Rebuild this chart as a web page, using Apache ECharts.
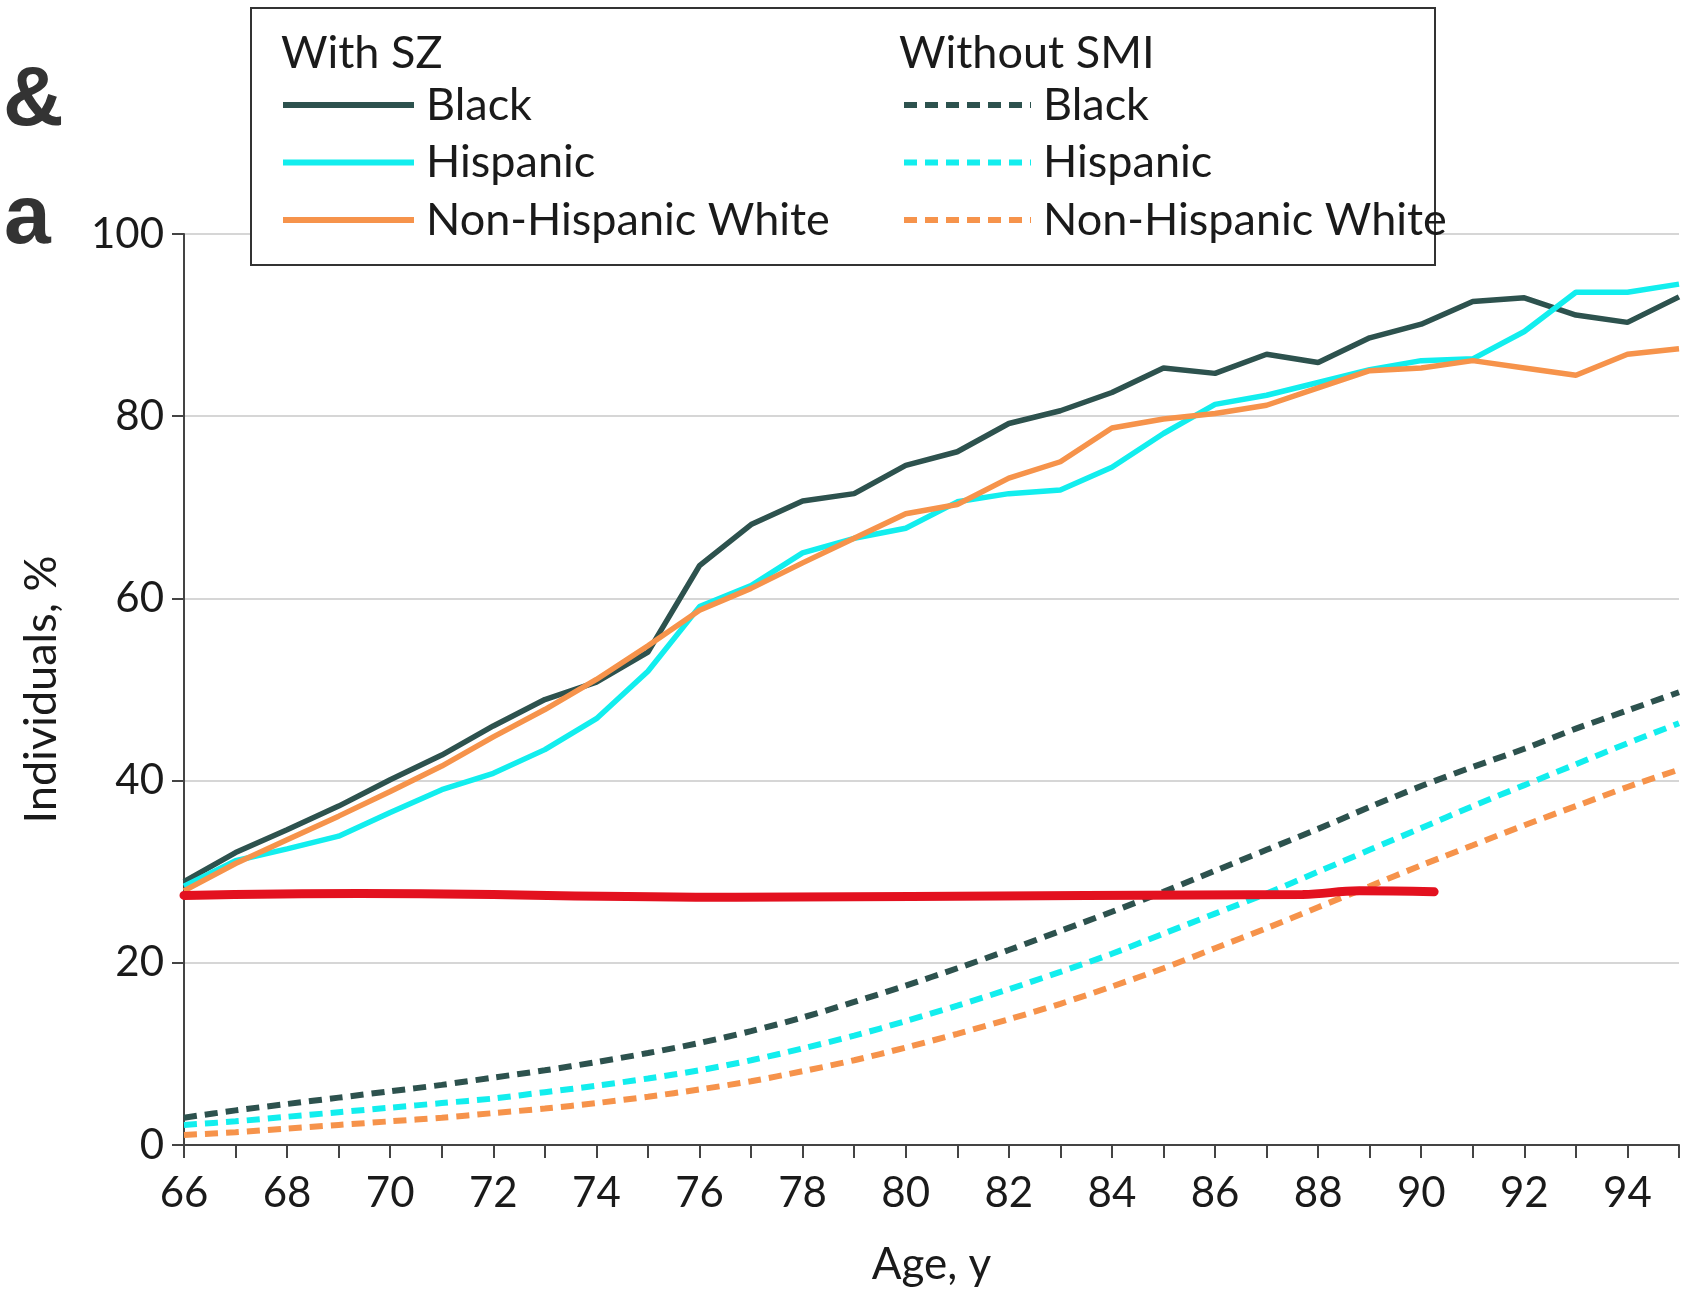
<!DOCTYPE html>
<html>
<head>
<meta charset="utf-8">
<title>Individuals by age</title>
<script src="https://cdn.jsdelivr.net/npm/echarts@6/dist/echarts.min.js"></script>
<style>
html, body { margin: 0; padding: 0; background: #fff; }
#chart { width: 1701px; height: 1292px; }
</style>
</head>
<body>
<div id="chart"></div>
<script>
// ages 66..95
const ages = [66, 67, 68, 69, 70, 71, 72, 73, 74, 75, 76, 77, 78, 79, 80,
  81, 82, 83, 84, 85, 86, 87, 88, 89, 90, 91, 92, 93, 94, 95]

// with SZ (solid)
const szBlack = [28.9, 32.1, 34.6, 37.2, 40.1, 42.8, 46.0, 48.9, 50.8, 54.1, 63.6, 68.1, 70.7, 71.5, 74.6,
  76.1, 79.2, 80.6, 82.6, 85.3, 84.7, 86.8, 85.9, 88.6, 90.1, 92.6, 93.0, 91.1, 90.3, 93.1]
const szHispanic = [28.4, 31.2, 32.5, 33.9, 36.5, 39.0, 40.8, 43.4, 46.8, 52.0, 59.1, 61.4, 65.0, 66.6, 67.7,
  70.6, 71.5, 71.9, 74.4, 78.1, 81.3, 82.3, 83.7, 85.1, 86.1, 86.3, 89.3, 93.6, 93.6, 94.5]
const szWhite = [27.9, 30.9, 33.5, 36.1, 38.8, 41.6, 44.8, 47.8, 51.1, 54.8, 58.7, 61.1, 63.9, 66.6, 69.3,
  70.3, 73.2, 75.0, 78.7, 79.7, 80.3, 81.2, 83.1, 85.0, 85.3, 86.1, 85.3, 84.5, 86.8, 87.4]

// without SMI (dashed)
const noBlack = [3.0, 3.8, 4.5, 5.2, 5.9, 6.6, 7.4, 8.2, 9.1, 10.1, 11.2, 12.5, 14.0, 15.7, 17.5,
  19.4, 21.4, 23.5, 25.6, 27.8, 30.1, 32.4, 34.7, 37.1, 39.4, 41.5, 43.5, 45.7, 47.7, 49.7]
const noHispanic = [2.2, 2.6, 3.1, 3.6, 4.1, 4.6, 5.1, 5.8, 6.5, 7.3, 8.2, 9.3, 10.6, 12.0, 13.6,
  15.3, 17.1, 19.0, 21.0, 23.2, 25.4, 27.6, 30.0, 32.4, 34.8, 37.2, 39.5, 41.8, 44.1, 46.3]
const noWhite = [1.1, 1.4, 1.8, 2.2, 2.6, 3.0, 3.5, 4.0, 4.6, 5.3, 6.1, 7.0, 8.1, 9.3, 10.7,
  12.2, 13.8, 15.5, 17.4, 19.4, 21.6, 23.8, 26.1, 28.4, 30.7, 32.9, 35.1, 37.2, 39.3, 41.2]

// hand drawn red mark
const redX = [66, 69.4, 76.7, 83.5, 87.7, 88.8, 90.25]
const redY = [27.4, 27.6, 27.2, 27.4, 27.5, 27.9, 27.8]

const groups = ['Black', 'Hispanic', 'Non-Hispanic White']
const yTicks = [0, 20, 40, 60, 80, 100]

const FONT = 'Lato'
const colors = ['#2d524e', '#12eeee', '#f6934b']

const pairs = (xs, ys) => xs.map((x, i) => [x, ys[i]])

const chart = echarts.init(document.getElementById('chart'))

const solid = [szBlack, szHispanic, szWhite].map((vals, i) => ({
  name: 'With SZ ' + groups[i],
  type: 'line',
  data: pairs(ages, vals),
  symbol: 'none',
  color: colors[i],
  z: 3 + i,
  lineStyle: {color: colors[i], width: 5.5}
}))

const dashed = [noBlack, noHispanic, noWhite].map((vals, i) => ({
  name: 'Without SMI ' + groups[i],
  type: 'line',
  data: pairs(ages, vals),
  symbol: 'none',
  color: colors[i],
  smooth: 0.3,
  lineStyle: {color: colors[i], width: 6, type: [13, 8]}
}))

const legendBase = {
  orient: 'vertical',
  top: 80,
  padding: 0,
  itemHeight: 14,
  itemGap: 7.5,
  selectedMode: false,
  itemStyle: {opacity: 0},
  lineStyle: {width: 6},
  textStyle: {fontFamily: FONT, fontSize: 45, lineHeight: 50, color: '#1a1a1a', padding: [0, 0, 0, 7]}
}

let option = {
  animation: false,
  backgroundColor: '#fff',
  grid: {left: 184, right: 22, top: 234, bottom: 145},
  legend: [
    Object.assign({}, legendBase, {
      left: 280, itemWidth: 131,
      data: groups.map(g => 'With SZ ' + g),
      formatter: n => n.replace('With SZ ', '')
    }),
    Object.assign({}, legendBase, {
      left: 901, itemWidth: 127,
      data: groups.map(g => 'Without SMI ' + g),
      formatter: n => n.replace('Without SMI ', '')
    })
  ],
  xAxis: {
    type: 'value',
    min: 66,
    max: 95,
    interval: 1,
    name: 'Age, y',
    nameLocation: 'middle',
    nameGap: 98,
    nameTextStyle: {fontFamily: FONT, fontSize: 44, color: '#1a1a1a'},
    axisLine: {lineStyle: {color: '#444', width: 2}},
    axisTick: {length: 13, lineStyle: {color: '#444', width: 2}},
    axisLabel: {
      margin: 27,
      fontFamily: FONT,
      fontSize: 42,
      color: '#1a1a1a',
      formatter: v => (v % 2 === 0 && v < 95) ? String(v) : ''
    },
    splitLine: {show: false}
  },
  yAxis: {
    type: 'value',
    min: yTicks[0],
    max: yTicks[yTicks.length - 1],
    interval: 20,
    name: 'Individuals, %',
    nameLocation: 'middle',
    nameGap: 120,
    nameTextStyle: {fontFamily: FONT, fontSize: 45, color: '#1a1a1a'},
    axisLine: {show: true, lineStyle: {color: '#444', width: 2}},
    axisTick: {show: true, length: 12, lineStyle: {color: '#444', width: 2}},
    axisLabel: {margin: 20, fontFamily: FONT, fontSize: 42, color: '#1a1a1a'},
    splitLine: {lineStyle: {color: '#d6d6d6', width: 2}}
  },
  graphic: [
    {
      type: 'rect', z: 3,
      shape: {x: 251, y: 8, width: 1184, height: 257},
      style: {fill: '#fff', stroke: '#333', lineWidth: 2}
    },
    {type: 'text', left: 281, top: 31, z: 5, style: {text: 'With SZ', font: '45px Lato', fill: '#1a1a1a'}},
    {type: 'text', left: 899, top: 31, z: 5, style: {text: 'Without SMI', font: '45px Lato', fill: '#1a1a1a'}},
    {type: 'text', left: 3, top: 60, z: 5, style: {text: '&', font: 'bold 84px "Liberation Sans", Arial, sans-serif', fill: '#333'}},
    {type: 'text', left: 4, top: 178, z: 5, style: {text: 'a', font: 'bold 84px "Liberation Sans", Arial, sans-serif', fill: '#333'}}
  ],
  series: [
    ...dashed,
    ...solid,
    {
      name: 'mark',
      type: 'line',
      data: pairs(redX, redY),
      symbol: 'none',
      smooth: 0.4,
      z: 10,
      lineStyle: {color: '#e3111f', width: 9, cap: 'round'}
    }
  ]
}

chart.setOption(option)
</script>
</body>
</html>
